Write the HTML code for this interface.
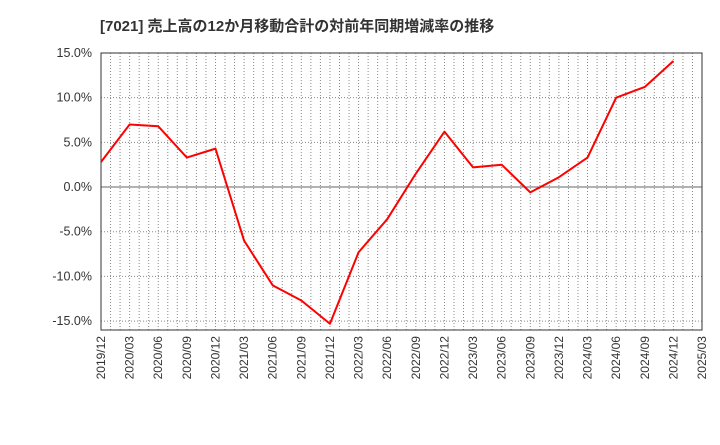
<!DOCTYPE html>
<html><head><meta charset="utf-8"><style>
body{margin:0;background:#fff;font-family:"Liberation Sans","Noto Sans CJK JP",sans-serif;}
svg text{font-family:"Liberation Sans","Noto Sans CJK JP",sans-serif;}
</style></head><body>
<svg id="c" width="720" height="440" xmlns="http://www.w3.org/2000/svg">
<text x="100" y="31" font-size="15" font-weight="bold" fill="#333">[7021]  売上高の12か月移動合計の対前年同期増減率の推移</text>
</svg>
<script>
const categories=["2019/12","2020/03","2020/06","2020/09","2020/12","2021/03","2021/06","2021/09","2021/12","2022/03","2022/06","2022/09","2022/12","2023/03","2023/06","2023/09","2023/12","2024/03","2024/06","2024/09","2024/12","2025/03"];
const values=[2.8,7.0,6.8,3.3,4.3,-6.0,-11.0,-12.7,-15.3,-7.3,-3.6,1.5,6.2,2.2,2.5,-0.6,1.1,3.3,10.0,11.2,14.1];
const yTicks=[15,10,5,0,-5,-10,-15];
const L=101,R=702,T=53,B=330,ymin=-16,ymax=15;
const svg=document.getElementById('c');const NS="http://www.w3.org/2000/svg";
const n=categories.length-1;
const x=i=>L+(R-L)*i/n;
const y=v=>T+(ymax-v)/(ymax-ymin)*(B-T);
function mk(t,a,p){const e=document.createElementNS(NS,t);for(const k in a)e.setAttribute(k,a[k]);(p||svg).appendChild(e);return e;}
for(let m=1;m<n*3;m++){const xx=L+(R-L)*m/(n*3);
const g=mk('line',{x1:xx,x2:xx,y1:T,y2:B,stroke:'#888','stroke-width':1,'stroke-dasharray':'1,2'});
}
yTicks.forEach(v=>{const yy=y(v);
const g=mk('line',{x1:L,x2:R,y1:yy,y2:yy,stroke:v===0?'#666':'#888','stroke-width':1,'stroke-dasharray':v===0?'':'1,2'});

const t=mk('text',{x:L-9,y:yy+4,'text-anchor':'end','font-size':12.5,fill:'#333'});t.textContent=v.toFixed(1)+'%';
});
const fr=mk('rect',{x:L,y:T,width:R-L,height:B-T,fill:'none',stroke:'#333','stroke-width':1});

categories.forEach((c,i)=>{const xx=x(i);
const t=mk('text',{x:0,y:0,'text-anchor':'end','font-size':12,fill:'#333',transform:`translate(${xx+4},${B+6}) rotate(-90)`});t.textContent=c;
});
const p=mk('polyline',{points:values.map((v,i)=>x(i)+','+y(v)).join(' '),fill:'none',stroke:'#f00','stroke-width':2,'stroke-linejoin':'round'});

</script>
</body></html>
